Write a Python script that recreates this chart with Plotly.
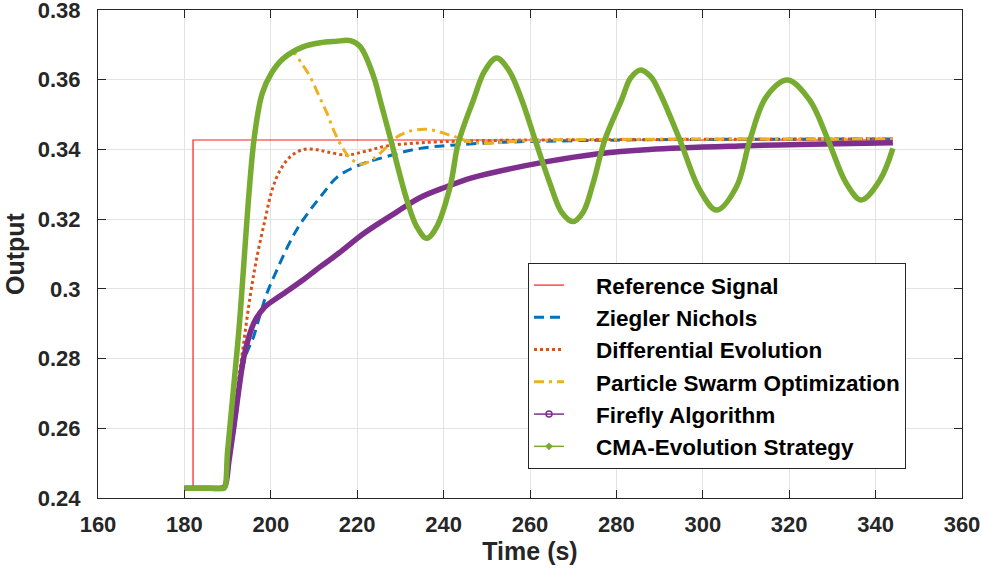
import plotly.graph_objects as go

# ---------------- data ----------------
ref_t = [180, 182, 182, 344]
ref_v = [0.2428, 0.2428, 0.3427, 0.3427]

zn_t = [180, 186, 188.4, 189.2, 190.3, 191.6, 194.0, 196.0, 197.5, 199.1, 201.4, 203.7, 206.2, 209.1,
        212.0, 215.3, 219.9, 226.9, 234.6, 243, 255, 270, 290, 344]
zn_v = [0.2428, 0.2428, 0.2428, 0.2428, 0.2505, 0.2600, 0.2800, 0.2862, 0.2925, 0.2987, 0.3054, 0.3116,
        0.3174, 0.3226, 0.3272, 0.3320, 0.3352, 0.3380, 0.3403, 0.3413, 0.3421, 0.3425, 0.3428, 0.3430]

de_t = [180, 186, 188.4, 189.2, 190.5, 191.8, 193.5, 195.3, 196.8, 198.7, 200.3, 202.2, 204.5, 207.6,
        210.7, 213.0, 217.6, 222.0, 226.9, 234.6, 245, 260, 344]
de_v = [0.2428, 0.2428, 0.2428, 0.2428, 0.2555, 0.2672, 0.2825, 0.2985, 0.3092, 0.3200, 0.3284, 0.3341,
        0.3379, 0.3400, 0.3399, 0.3393, 0.3384, 0.3395, 0.3410, 0.3419, 0.3424, 0.3427, 0.3430]

pso_t = [180, 186, 188.4, 189.2, 190.0, 192.6, 196.1, 198.0, 200.2, 203.0, 205.3, 207.2, 209.1, 211.0,
         213.0, 214.8, 216.6, 218.4, 220.7, 222.8, 225.3, 229.9, 235.5, 241.5, 246.1, 250, 258, 270, 344]
pso_v = [0.2428, 0.2428, 0.2428, 0.2428, 0.2534, 0.2880, 0.3427, 0.3560, 0.3620, 0.3662, 0.3676, 0.3645,
         0.3609, 0.3558, 0.3504, 0.3448, 0.3405, 0.3375, 0.3358, 0.3365, 0.3389, 0.3441, 0.3458, 0.3441,
         0.3422, 0.3418, 0.3424, 0.3428, 0.3430]

fa_t = [180, 186, 188.6, 189.4, 190.3, 191.4, 193.7, 195.0, 196.3, 198.7, 202.2, 207.6, 211.4, 215.7,
        221.5, 229.2, 234.6, 240.7, 246.1, 252.3, 263.9, 275.4, 287.7, 308.5, 325, 344]
fa_v = [0.2428, 0.2428, 0.2428, 0.2434, 0.2505, 0.2600, 0.2800, 0.2865, 0.2908, 0.2949, 0.2980, 0.3027,
        0.3063, 0.3102, 0.3159, 0.3221, 0.3262, 0.3293, 0.3317, 0.3336, 0.3365, 0.3387, 0.3400, 0.3410,
        0.3415, 0.3419]

cma_t = [180, 186, 188.4, 189.2, 190.0, 192.6, 196.1, 198.0, 200.2, 203.0, 207.6, 211.4, 215.0, 218.4,
         220.7, 223.8, 225.3, 227.6, 231.5, 233.8, 236.1, 238.4, 241.5, 243.4, 246.9, 249.5, 252.3, 255.2,
         258.1, 261.2, 264.6, 267.3, 269.9, 272.3, 274.6, 277.3, 281.2, 283.3, 285.6, 288.0, 290.1, 294.7,
         299.3, 303.2, 307.8, 310.9, 314.7, 319.6, 324.7, 329.0, 333.2, 336.7, 341.0, 344]
cma_v = [0.2428, 0.2428, 0.2428, 0.2428, 0.2534, 0.2880, 0.3427, 0.3560, 0.3620, 0.3662, 0.3695, 0.3706,
         0.3710, 0.3712, 0.3695, 0.3609, 0.3542, 0.3436, 0.3255, 0.3178, 0.3145, 0.3178, 0.3293, 0.3418,
         0.3542, 0.3625, 0.3662, 0.3625, 0.3542, 0.3427, 0.3303, 0.3220, 0.3193, 0.3220, 0.3303, 0.3427,
         0.3542, 0.3605, 0.3628, 0.3608, 0.3561, 0.3427, 0.3284, 0.3226, 0.3293, 0.3427, 0.3551, 0.3599,
         0.3542, 0.3427, 0.3303, 0.3255, 0.3312, 0.3403]

names = ["Reference Signal", "Ziegler Nichols", "Differential Evolution",
         "Particle Swarm Optimization", "Firefly Algorithm", "CMA-Evolution Strategy"]

x_ticks = [160, 180, 200, 220, 240, 260, 280, 300, 320, 340, 360]
x_labels = ["160", "180", "200", "220", "240", "260", "280", "300", "320", "340", "360"]
y_ticks = [0.24, 0.26, 0.28, 0.30, 0.32, 0.34, 0.36, 0.38]
y_labels = ["0.24", "0.26", "0.28", "0.3", "0.32", "0.34", "0.36", "0.38"]

# ---------------- styles ----------------
C_RED = "#FF1A1A"
C_BLUE = "#0072BD"
C_ORANGE = "#D95319"
C_YELLOW = "#EDB120"
C_PURPLE = "#7E2F8E"
C_GREEN = "#77AC30"
FONT = "Liberation Sans, Arial, Helvetica, sans-serif"
INK = "#262626"
SM = 1.0
PAD = "\u2003\u2009"          # gap between legend symbol and label

fig = go.Figure()
fig.add_trace(go.Scatter(x=ref_t, y=ref_v, mode="lines", name=PAD + names[0],
                         line=dict(color=C_RED, width=1.2)))
fig.add_trace(go.Scatter(x=zn_t, y=zn_v, mode="lines", name=PAD + names[1],
                         line=dict(color=C_BLUE, width=3, dash="10px,6px", shape="spline", smoothing=SM)))
fig.add_trace(go.Scatter(x=de_t, y=de_v, mode="lines", name=PAD + names[2],
                         line=dict(color=C_ORANGE, width=3, dash="3px,3px", shape="spline", smoothing=SM)))
fig.add_trace(go.Scatter(x=pso_t, y=pso_v, mode="lines", name=PAD + names[3],
                         line=dict(color=C_YELLOW, width=3, dash="10px,5px,3px,5px", shape="spline",
                                   smoothing=SM)))
fig.add_trace(go.Scatter(x=fa_t, y=fa_v, mode="lines", showlegend=False,
                         line=dict(color=C_PURPLE, width=5.5, shape="spline", smoothing=SM)))
fig.add_trace(go.Scatter(x=cma_t, y=cma_v, mode="lines", showlegend=False,
                         line=dict(color=C_GREEN, width=5.5, shape="spline", smoothing=SM)))
# legend-only entries (thin line with marker, as in the reference legend)
fig.add_trace(go.Scatter(x=[None], y=[None], mode="lines+markers", name=PAD + names[4],
                         line=dict(color=C_PURPLE, width=1.5),
                         marker=dict(symbol="circle-open", size=6, color=C_PURPLE, line=dict(width=1.5))))
fig.add_trace(go.Scatter(x=[None], y=[None], mode="lines+markers", name=PAD + names[5],
                         line=dict(color=C_GREEN, width=1.5),
                         marker=dict(symbol="diamond", size=6, color=C_GREEN)))

axis_common = dict(showline=True, linecolor=INK, linewidth=1, mirror="ticks",
                   ticks="inside", ticklen=8, tickcolor=INK, tickwidth=1,
                   showgrid=True, gridcolor="#E3E3E3", gridwidth=1, zeroline=False,
                   ticklabeloverflow="allow", automargin=False,
                   tickfont=dict(family=FONT, size=22, color=INK, weight="bold"))

fig.update_layout(
    width=982, height=574,
    margin=dict(l=98, r=20, t=10, b=76),
    paper_bgcolor="white", plot_bgcolor="white",
    xaxis=dict(range=[160, 360], tickvals=x_ticks, ticktext=x_labels, ticklabelstandoff=7,
               title=dict(text="Time (s)", standoff=1,
                          font=dict(family=FONT, size=25, color=INK, weight="bold")),
               **axis_common),
    yaxis=dict(range=[0.24, 0.38], tickvals=y_ticks, ticktext=y_labels,
               ticklabelstandoff=12,
               title=dict(text="Output", standoff=6,
                          font=dict(family=FONT, size=25, color=INK, weight="bold")),
               **axis_common),
    legend=dict(x=0.4977, y=0.4816, xanchor="left", yanchor="top",
                bgcolor="white", bordercolor="#262626", borderwidth=1,
                font=dict(family=FONT, size=22.5, color="black", weight="bold"),
                tracegroupgap=0),
    showlegend=True,
)

fig.write_html("out.html", config={"displayModeBar": False},
               post_script="document.body.style.margin='0px';document.body.style.overflow='hidden';")
